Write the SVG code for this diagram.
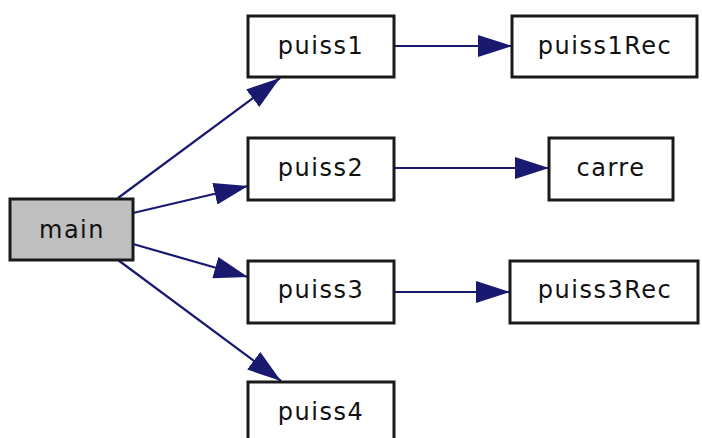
<svg xmlns="http://www.w3.org/2000/svg" width="702" height="438" viewBox="0 0 702 438">
  <style>
    .box { fill: #ffffff; stroke: #1a1a1a; stroke-width: 3; }
    .cur { fill: #bfbfbf; }
    .lbl { font-family: "DejaVu Sans", Verdana, sans-serif; font-size: 24px; letter-spacing: 1.5px; fill: #111111; text-anchor: middle; }
    .edge { stroke: #191970; stroke-width: 2.2; fill: none; }
  </style>
  <defs>
    <marker id="arrow" viewBox="0 0 34 22" refX="34" refY="11" markerWidth="34" markerHeight="22" markerUnits="userSpaceOnUse" orient="auto">
      <path d="M0,0 L34,11 L0,22 Z" fill="#191970"/>
    </marker>
  </defs>

  <g id="connectors">
    <path class="edge" d="M118,198 L280,78" marker-end="url(#arrow)"/>
    <path class="edge" d="M133,213 L248,186" marker-end="url(#arrow)"/>
    <path class="edge" d="M133,244 L248,277" marker-end="url(#arrow)"/>
    <path class="edge" d="M118,260 L281,381" marker-end="url(#arrow)"/>
    <path class="edge" d="M394,46 L512,46" marker-end="url(#arrow)"/>
    <path class="edge" d="M394,168 L549,168" marker-end="url(#arrow)"/>
    <path class="edge" d="M394,292 L510,292" marker-end="url(#arrow)"/>
  </g>

  <g id="main">
    <rect class="box cur" x="10" y="199" width="123" height="61"/>
    <text class="lbl" x="72" y="238">main</text>
  </g>
  <g id="puiss1">
    <rect class="box" x="248" y="16" width="146" height="61"/>
    <text class="lbl" x="321" y="54">puiss1</text>
  </g>
  <g id="puiss1Rec">
    <rect class="box" x="512" y="16" width="185" height="61"/>
    <text class="lbl" x="605" y="54">puiss1Rec</text>
  </g>
  <g id="puiss2">
    <rect class="box" x="248" y="138" width="146" height="62"/>
    <text class="lbl" x="321" y="176">puiss2</text>
  </g>
  <g id="carre">
    <rect class="box" x="549" y="138" width="124" height="62"/>
    <text class="lbl" x="611" y="176">carre</text>
  </g>
  <g id="puiss3">
    <rect class="box" x="248" y="261" width="146" height="62"/>
    <text class="lbl" x="321" y="298">puiss3</text>
  </g>
  <g id="puiss3Rec">
    <rect class="box" x="510" y="261" width="188" height="62"/>
    <text class="lbl" x="605" y="298">puiss3Rec</text>
  </g>
  <g id="puiss4">
    <rect class="box" x="248" y="382" width="146" height="62"/>
    <text class="lbl" x="321" y="420">puiss4</text>
  </g>
</svg>
